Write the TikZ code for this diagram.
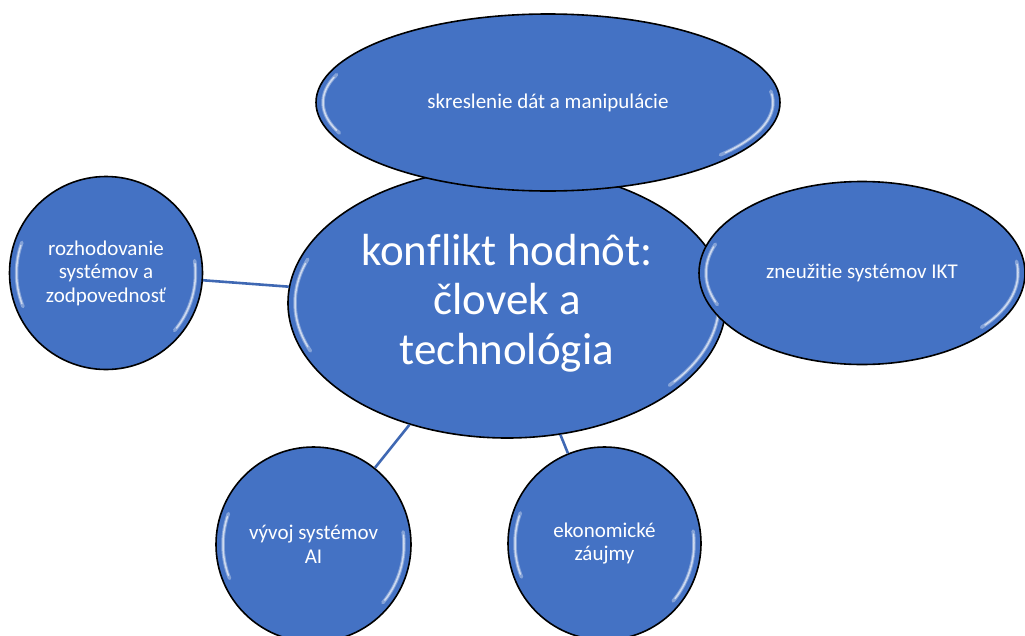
\documentclass[tikz,border=0pt]{standalone}
\usepackage{fontspec}
\setmainfont{Carlito}[Ligatures=NoCommon]
\usetikzlibrary{shapes.geometric}
\definecolor{bubble}{HTML}{4472C4}
\definecolor{linkc}{HTML}{3F68B3}
\tikzset{
  bubble/.style={ellipse, draw=black, line width=1.6pt, fill=bubble, text=white,
    inner sep=0pt, align=center, font=\fontsize{21}{23.5}\selectfont},
  link/.style={draw=linkc, line width=2.6pt},
  shine/.style={draw=white, line width=3.5pt, opacity=0.35, line cap=round},
  shinecore/.style={draw=white, line width=1.5pt, opacity=0.6, line cap=round}
}
\newcommand{\shinearcs}[3]{% center, rx, ry
  \begin{scope}[shift={(#1)}]
    \draw[shine] (158:{#2-7} and {#3-7}) arc[start angle=158, end angle=200, x radius={#2-7}, y radius={#3-7}];
    \draw[shinecore] (160:{#2-7} and {#3-7}) arc[start angle=160, end angle=198, x radius={#2-7}, y radius={#3-7}];
    \draw[shine] (-8:{#2-7} and {#3-7}) arc[start angle=-8, end angle=40, x radius={#2-7}, y radius={#3-7}];
    \draw[shinecore] (-6:{#2-7} and {#3-7}) arc[start angle=-6, end angle=38, x radius={#2-7}, y radius={#3-7}];
  \end{scope}}
\begin{document}
\begin{tikzpicture}[x=1pt, y=-1pt]
\useasboundingbox (0,0) rectangle (1025,635);
% centre
\node[bubble, minimum width=438pt, minimum height=270pt, font=\fontsize{45}{49.5}\selectfont] (core) at (507,303) {konflikt hodnôt:\\človek a\\technológia};
\shinearcs{core.center}{219}{135}
% satellites
\node[bubble, minimum width=193pt, minimum height=193pt] (dec) at (106,273) {rozhodovanie\\systémov a\\zodpovednosť};
\shinearcs{dec.center}{96.5}{96.5}
\node[bubble, minimum width=195pt, minimum height=195pt] (ai) at (313.5,544.5) {vývoj systémov\\AI};
\shinearcs{ai.center}{97.5}{97.5}
\node[bubble, minimum width=193pt, minimum height=193pt] (eco) at (604.5,543.5) {ekonomické\\záujmy};
\shinearcs{eco.center}{96.5}{96.5}
\node[bubble, minimum width=464pt, minimum height=177pt] (data) at (548,102.5) {skreslenie dát a manipulácie};
\shinearcs{data.center}{232}{88.5}
\node[bubble, minimum width=326pt, minimum height=183pt] (ikt) at (862,273) {zneužitie systémov IKT};
\shinearcs{ikt.center}{163}{91.5}
% connectors
\draw[link] (dec) -- (core);
\draw[link] (ai) -- (core);
\draw[link] (eco) -- (core);
\end{tikzpicture}
\end{document}
